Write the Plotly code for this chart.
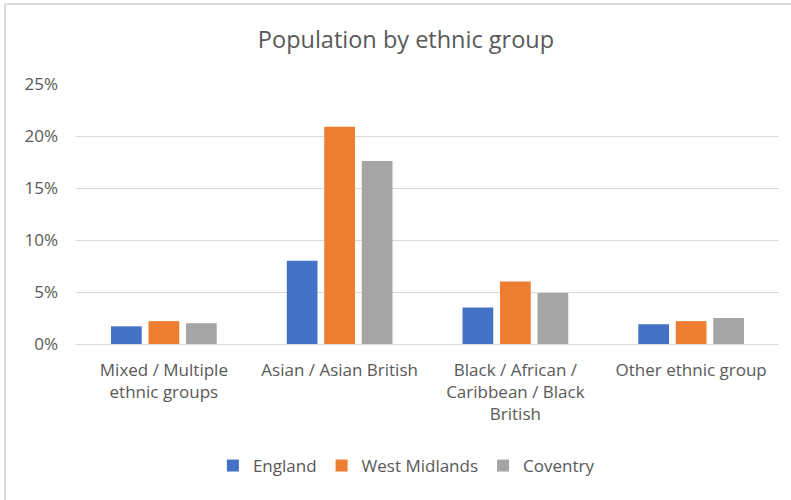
import plotly.graph_objects as go

categories = ["Mixed / Multiple<br>ethnic groups", "Asian / Asian British",
              "Black / African /<br>Caribbean / Black<br>British", "Other ethnic group"]
england = [1.7, 8.0, 3.5, 1.9]
west_midlands = [2.2, 20.9, 6.0, 2.2]
coventry = [2.0, 17.6, 4.9, 2.5]
series_names = ["England", "West Midlands", "Coventry"]
colors = ["#4472C4", "#ED7D31", "#A5A5A5"]
y_ticks = [0, 5, 10, 15, 20, 25]
y_tick_labels = ["0%", "5%", "10%", "15%", "20%", "25%"]

FONT = "Open Sans"
TXT = "#595959"

W, H = 791, 500
ML, MR, MT, MB = 76, 12, 84, 156
PW, PH = W - ML - MR, H - MT - MB

fig = go.Figure()
for name, vals, col in zip(series_names, [england, west_midlands, coventry], colors):
    fig.add_trace(go.Bar(x=categories, y=vals, name=name, marker_color=col,
                         marker_line_width=0))

fig.update_layout(
    width=W, height=H,
    margin=dict(l=ML, r=MR, t=MT, b=MB),
    paper_bgcolor="white", plot_bgcolor="white",
    font=dict(family=FONT, color=TXT, size=17),
    title=dict(text="Population by ethnic group", x=406 / W, xanchor="center",
               y=1 - 40 / H, yanchor="middle", yref="container",
               font=dict(size=23.5, color=TXT, family=FONT)),
    bargap=0.36, bargroupgap=0.18,
    legend=dict(orientation="h", x=0.47, xanchor="center", y=(MT + PH - 466) / PH,
                yanchor="middle", font=dict(size=17, color=TXT), itemwidth=30,
                traceorder="normal", tracegroupgap=0),
    showlegend=True,
)
fig.update_yaxes(range=[0, 25], tickvals=y_ticks, ticktext=y_tick_labels,
                 showgrid=True, gridcolor="#D9D9D9", gridwidth=1,
                 zeroline=True, zerolinecolor="#D9D9D9", zerolinewidth=1,
                 showline=False, ticks="", ticklabelstandoff=17,
                 tickfont=dict(size=17, color=TXT))
fig.update_xaxes(showline=False, ticks="", tickfont=dict(size=17, color=TXT),
                 ticklabelstandoff=14)

# Chart border (top and left visible in reference)
top_y = 1 + (MT - 4) / PH
left_x = -(ML - 5) / PW
fig.add_shape(type="line", xref="paper", yref="paper", x0=left_x, x1=1.1,
              y0=top_y, y1=top_y, line=dict(color="#D9D9D9", width=2))
fig.add_shape(type="line", xref="paper", yref="paper", x0=left_x, x1=left_x,
              y0=-0.7, y1=top_y, line=dict(color="#D9D9D9", width=2))

fig.write_html("out.html")
